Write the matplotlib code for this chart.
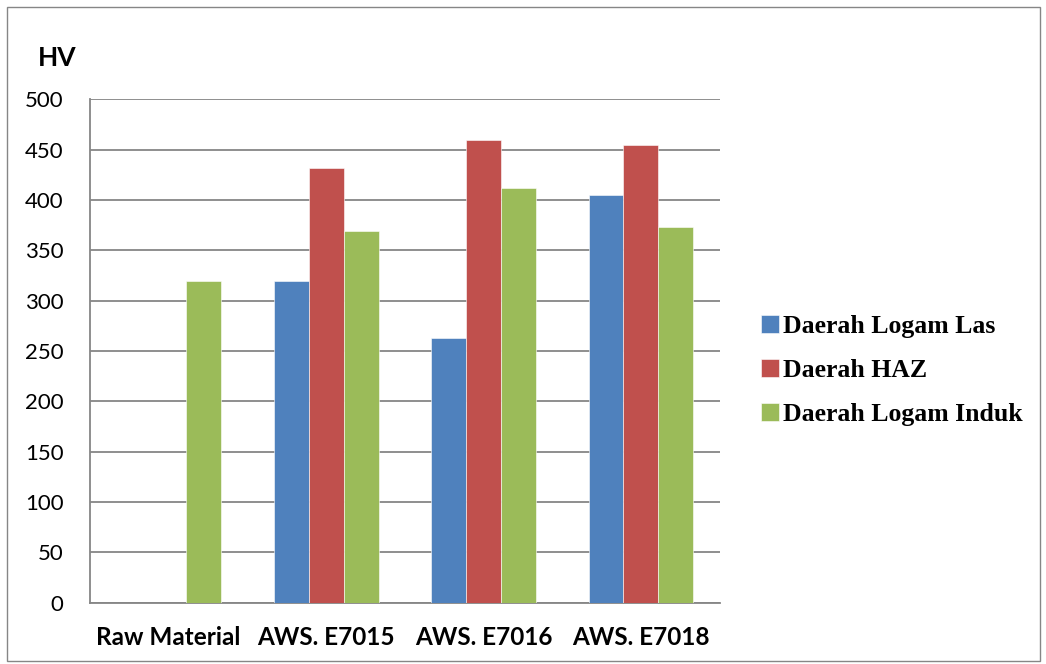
import numpy as np
import matplotlib.pyplot as plt
from matplotlib.patches import Rectangle

# nilai kekerasan (HV) per daerah
categories = ['Raw Material', 'AWS. E7015', 'AWS. E7016', 'AWS. E7018']
logam_las = [0, 320, 263, 405]
haz = [0, 432, 460, 455]
logam_induk = [320, 369, 412, 373]
series_names = ['Daerah Logam Las', 'Daerah HAZ', 'Daerah Logam Induk']
colors = ['#4F81BD', '#C0504D', '#9BBB59']
yticks = [0, 50, 100, 150, 200, 250, 300, 350, 400, 450, 500]

fig = plt.figure(figsize=(10.46, 6.64), dpi=100)
ax = fig.add_axes([0.086, 0.0926, 0.602, 0.7576])

x = np.arange(len(categories))
w = 0.222
for i, (vals, name, c) in enumerate(zip([logam_las, haz, logam_induk], series_names, colors)):
    ax.bar(x + (i - 1) * w, vals, width=w, color=c, edgecolor='white',
           linewidth=0.4, label=name, zorder=3)

ax.set_xlim(-0.5, len(categories) - 0.5)
ax.set_ylim(0, 500)
ax.set_yticks(yticks)
ax.set_yticklabels([str(v) for v in yticks], fontfamily='Lato', fontsize=16)
ax.set_xticks(x)
ax.set_xticklabels(categories, fontfamily='Lato', fontweight='bold', fontsize=17.5)
ax.tick_params(axis='both', length=0)
ax.tick_params(axis='y', pad=19)
ax.tick_params(axis='x', pad=17)
ax.grid(axis='y', color='#868686', linewidth=1.3, zorder=0)
for s in ['top', 'right']:
    ax.spines[s].set_visible(False)
for s in ['left', 'bottom']:
    ax.spines[s].set_color('#868686')
    ax.spines[s].set_linewidth(1.3)

fig.text(0.036, 0.913, 'HV', fontfamily='Lato', fontweight='bold', fontsize=19,
         va='center', ha='left')

leg = ax.legend(loc='center left', bbox_to_anchor=(1.05, 0.462), frameon=False,
                prop={'family': 'Liberation Serif', 'weight': 'bold', 'size': 18.5},
                handlelength=0.7, handleheight=0.7, handletextpad=0.15,
                labelspacing=0.82, borderaxespad=0)

# bingkai luar
fig.patches.append(Rectangle((0.0065, 0.005), 0.988, 0.985, transform=fig.transFigure,
                             fill=False, edgecolor='#868686', linewidth=1.0))

fig.savefig('out.png', dpi=100)
